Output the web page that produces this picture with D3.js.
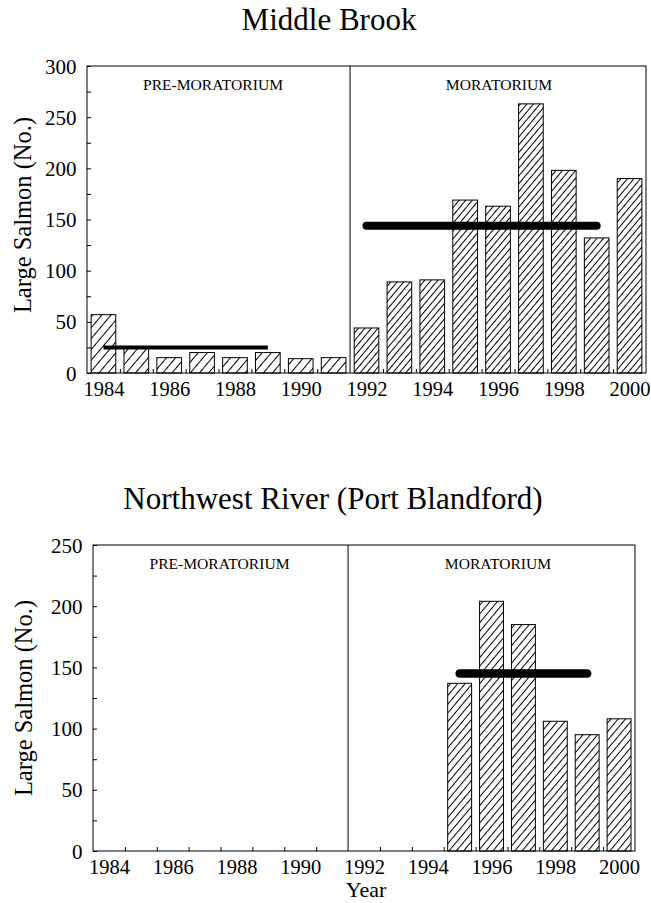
<!DOCTYPE html>
<html>
<head>
<meta charset="utf-8">
<script src="https://cdn.jsdelivr.net/npm/d3@7"></script>
<style>
  body { margin: 0; background: #fff; }
  svg { display: block; font-family: "Liberation Serif", "Times New Roman", serif; }
  text { font-family: "Liberation Serif", "Times New Roman", serif; fill: #000; }
</style>
</head>
<body>
<svg id="chart" width="651" height="903"></svg>
<script>
// ---------- data ----------
const mbYears  = [1984, 1985, 1986, 1987, 1988, 1989, 1990, 1991, 1992, 1993, 1994, 1995, 1996, 1997, 1998, 1999, 2000];
const mbValues = [57, 25, 15, 20, 15, 20, 14, 15, 44, 89, 91, 169, 163, 263, 198, 132, 190];
const mbMeans  = [
  { start: 1984, end: 1989, value: 25 },
  { start: 1992, end: 1999, value: 144 }
];

const nwYears  = [1995, 1996, 1997, 1998, 1999, 2000];
const nwValues = [137, 204, 185, 106, 95, 108];
const nwMeans  = [
  { start: 1995, end: 1999, value: 145 }
];

const allYears   = [1984, 1985, 1986, 1987, 1988, 1989, 1990, 1991, 1992, 1993, 1994, 1995, 1996, 1997, 1998, 1999, 2000];
const xTickYears = [1984, 1986, 1988, 1990, 1992, 1994, 1996, 1998, 2000];
const mbYTicks   = [0, 50, 100, 150, 200, 250, 300];
const nwYTicks   = [0, 50, 100, 150, 200, 250];
const mbYMinor   = [0, 25, 50, 75, 100, 125, 150, 175, 200, 225, 250, 275, 300];
const nwYMinor   = [0, 25, 50, 75, 100, 125, 150, 175, 200, 225, 250];
const periods    = [
  { label: "PRE-MORATORIUM", start: 1984, end: 1991 },
  { label: "MORATORIUM",     start: 1992, end: 2000 }
];

// ---------- drawing ----------
const FONT = '"Liberation Serif", "Times New Roman", serif';
const svg = d3.select("#chart");
const defs = svg.append("defs");

function hatch(id, spacing, angle) {
  const p = defs.append("pattern")
    .attr("id", id)
    .attr("patternUnits", "userSpaceOnUse")
    .attr("width", spacing).attr("height", 10)
    .attr("patternTransform", `rotate(${angle})`);
  p.append("rect").attr("width", spacing).attr("height", 10).attr("fill", "#fff");
  p.append("line").attr("x1", 0.5).attr("x2", 0.5).attr("y1", 0).attr("y2", 10)
    .attr("stroke", "#000").attr("stroke-width", 1);
}
hatch("hatchPre", 7, 40);
hatch("hatchMor", 5, 40);
hatch("hatchNW", 5.6, 40);

function panel(cfg) {
  const x = d3.scaleLinear().domain([allYears[0] - 0.5, allYears[allYears.length - 1] + 0.5])
    .range([cfg.left, cfg.right]);
  const y = d3.scaleLinear().domain([0, cfg.yMax]).range([cfg.bottom, cfg.top]);
  const g = svg.append("g").attr("font-family", FONT);
  const bw = (x(1) - x(0)) * 0.75;

  // title
  g.append("text").attr("x", cfg.titleX).attr("y", cfg.titleY)
    .attr("font-family", FONT)
    .attr("text-anchor", "middle").attr("font-size", 31).text(cfg.title);

  // bars
  g.selectAll("rect.bar").data(cfg.years.map((yr, i) => ({ yr, v: cfg.values[i] })))
    .join("rect").attr("class", "bar")
    .attr("x", d => x(d.yr) - bw / 2)
    .attr("width", bw)
    .attr("y", d => y(d.v))
    .attr("height", d => y(0) - y(d.v))
    .attr("fill", d => `url(#${d.yr < periods[1].start ? cfg.patPre : cfg.patMor})`)
    .attr("stroke", "#000").attr("stroke-width", 1);

  // frame
  g.append("rect").attr("x", cfg.left).attr("y", cfg.top)
    .attr("width", cfg.right - cfg.left).attr("height", cfg.bottom - cfg.top)
    .attr("fill", "none").attr("stroke", "#000").attr("stroke-width", 1);

  // divider
  const divX = x((periods[0].end + periods[1].start) / 2);
  g.append("line").attr("x1", divX).attr("x2", divX).attr("y1", cfg.top).attr("y2", cfg.bottom)
    .attr("stroke", "#000").attr("stroke-width", 1);

  // period labels
  periods.forEach((p, i) => {
    g.append("text").attr("x", cfg.periodX[i]).attr("y", cfg.top + 23.5)
      .attr("font-family", FONT)
      .attr("text-anchor", "middle").attr("font-size", 15.6).text(p.label);
  });

  // mean lines
  cfg.means.forEach((m, i) => {
    g.append("line")
      .attr("x1", x(m.start)).attr("x2", x(m.end))
      .attr("y1", y(m.value)).attr("y2", y(m.value))
      .attr("stroke", "#000")
      .attr("stroke-width", cfg.meanWidths[i])
      .attr("stroke-linecap", cfg.meanWidths[i] > 5 ? "round" : "butt");
  });

  // y axis: inside ticks + labels
  const yAxis = d3.axisLeft(y).tickValues(cfg.yMinor).tickSize(-4).tickSizeOuter(0)
    .tickPadding(10.5)
    .tickFormat(d => cfg.yTicks.includes(d) ? d : "");
  const ya = g.append("g").attr("transform", `translate(${cfg.left},0)`).call(yAxis);
  ya.attr("font-family", FONT);
  ya.select(".domain").remove();
  ya.selectAll("text").attr("font-size", 21).attr("font-family", FONT).attr("dy", "0.34em");
  ya.selectAll("line").attr("stroke-width", 1);

  // x axis: boundary ticks inside
  const bounds = allYears.slice(0, -1).map(d => d + 0.5)
    .filter(d => d !== (periods[0].end + periods[1].start) / 2);
  const xAxis = d3.axisBottom(x).tickValues(bounds).tickSize(-4).tickSizeOuter(0).tickFormat("");
  const xa = g.append("g").attr("transform", `translate(0,${cfg.bottom})`).call(xAxis);
  xa.select(".domain").remove();

  const xLab = d3.axisBottom(x).tickValues(xTickYears).tickSize(0).tickSizeOuter(0)
    .tickFormat(d3.format("d"));
  const xl = g.append("g").attr("transform", `translate(0,${cfg.bottom})`).call(xLab);
  xl.attr("font-family", FONT);
  xl.select(".domain").remove();
  xl.selectAll("text").attr("font-size", 20.5).attr("font-family", FONT)
    .attr("y", 23).attr("dy", null);

  // y axis title
  g.append("text")
    .attr("transform", `translate(${cfg.yLabelX},${cfg.yLabelY}) rotate(-90)`)
    .attr("font-family", FONT)
    .attr("text-anchor", "middle").attr("font-size", 24.5).text("Large Salmon (No.)");

  if (cfg.xTitle) {
    g.append("text").attr("x", (cfg.left + cfg.right) / 2 + 2).attr("y", cfg.bottom + 46)
      .attr("font-family", FONT)
      .attr("text-anchor", "middle").attr("font-size", 22).text(cfg.xTitle);
  }
}

panel({
  title: "Middle Brook", titleX: 329, titleY: 30,
  left: 87, right: 646, top: 66, bottom: 373, yMax: 300,
  years: mbYears, values: mbValues, means: mbMeans, meanWidths: [4, 8],
  yTicks: mbYTicks, yMinor: mbYMinor,
  patPre: "hatchPre", patMor: "hatchMor",
  periodX: [213, 499], yLabelX: 31, yLabelY: 215
});

panel({
  title: "Northwest River (Port Blandford)", titleX: 333, titleY: 509,
  left: 93, right: 635, top: 545, bottom: 851, yMax: 250,
  years: nwYears, values: nwValues, means: nwMeans, meanWidths: [8.5],
  yTicks: nwYTicks, yMinor: nwYMinor,
  patPre: "hatchNW", patMor: "hatchNW",
  periodX: [219.5, 498], yLabelX: 32, yLabelY: 698,
  xTitle: "Year"
});
</script>
</body>
</html>
